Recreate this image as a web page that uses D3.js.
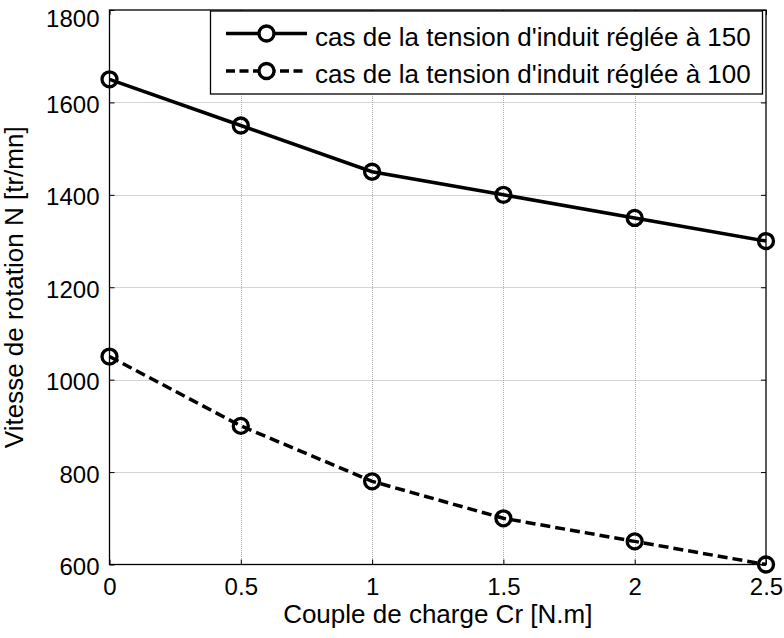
<!DOCTYPE html>
<html>
<head>
<meta charset="utf-8">
<script src="https://cdn.jsdelivr.net/npm/d3@7"></script>
<style>
  html, body { margin: 0; padding: 0; background: #fff; }
  svg { display: block; }
  text { font-family: "Liberation Sans", Arial, sans-serif; fill: #000; }
</style>
</head>
<body>
<script>
// Charge torque (N.m) and rotation speed (tr/mn) for two armature voltages
const couple = [0, 0.5, 1, 1.5, 2, 2.5];
const vitesse150 = [1650, 1550, 1450, 1400, 1350, 1300];
const vitesse100 = [1050, 900, 780, 700, 650, 600];
const xTicks = [0, 0.5, 1, 1.5, 2, 2.5];
const yTicks = [600, 800, 1000, 1200, 1400, 1600, 1800];
const legendLabels = [
  "cas de la tension d'induit réglée à 150",
  "cas de la tension d'induit réglée à 100"
];

const W = 784, H = 638;
const plot = { left: 109.5, right: 766, top: 10, bottom: 564.5 };

const svg = d3.select("body").append("svg")
  .attr("width", W).attr("height", H);

const x = d3.scaleLinear().domain([0, 2.5]).range([plot.left, plot.right]);
const y = d3.scaleLinear().domain([600, 1800]).range([plot.bottom, plot.top]);

const pw = plot.right - plot.left, ph = plot.bottom - plot.top;

// dotted grid
const grid = svg.append("g").attr("stroke", "#a8a8a8").attr("stroke-width", 1)
  .attr("stroke-dasharray", "1,1");
grid.selectAll("line.gx").data(xTicks.slice(1, -1)).join("line")
  .attr("x1", d => Math.round(x(d)) + 0.5).attr("x2", d => Math.round(x(d)) + 0.5)
  .attr("y1", plot.top).attr("y2", plot.bottom);
grid.selectAll("line.gy").data(yTicks.slice(1, -1)).join("line")
  .attr("y1", d => Math.round(y(d)) + 0.5).attr("y2", d => Math.round(y(d)) + 0.5)
  .attr("x1", plot.left).attr("x2", plot.right);

// axes with inward ticks
const tickFmt = d => String(d);
const axB = svg.append("g").attr("transform", `translate(0,${plot.bottom})`)
  .call(d3.axisBottom(x).tickValues(xTicks).tickFormat(tickFmt).tickSize(-5).tickPadding(13));
const axT = svg.append("g").attr("transform", `translate(0,${plot.top})`)
  .call(d3.axisTop(x).tickValues(xTicks).tickFormat("").tickSize(-5));
const axL = svg.append("g").attr("transform", `translate(${plot.left},0)`)
  .call(d3.axisLeft(y).tickValues(yTicks).tickFormat(tickFmt).tickSize(-5).tickPadding(10));
const axR = svg.append("g").attr("transform", `translate(${plot.right},0)`)
  .call(d3.axisRight(y).tickValues(yTicks).tickFormat("").tickSize(-5));

[axB, axT, axL, axR].forEach(a => {
  a.select(".domain").remove();
  a.selectAll(".tick line").attr("stroke", "#000").attr("stroke-width", 1);
  a.selectAll("text").attr("font-size", 24)
    .style("font-family", '"Liberation Sans", Arial, sans-serif').attr("fill", "#000");
});
// y labels sit slightly below their ticks; the top one is kept inside the page
axL.selectAll(".tick text").attr("dy", d => d === 1800 ? "0.67em" : "0.42em");

// box
svg.append("rect")
  .attr("x", plot.left).attr("y", plot.top).attr("width", pw).attr("height", ph)
  .attr("fill", "none").attr("stroke", "#000").attr("stroke-width", 1.3);

// series
const line = d3.line().x(d => x(d[0])).y(d => y(d[1]));
const series = [
  { values: vitesse150, dash: null, label: legendLabels[0] },
  { values: vitesse100, dash: "10,5", label: legendLabels[1] }
];

series.forEach(s => {
  const pts = couple.map((c, i) => [c, s.values[i]]);
  svg.append("path").datum(pts).attr("d", line)
    .attr("fill", "none").attr("stroke", "#000").attr("stroke-width", 3.5)
    .attr("stroke-dasharray", s.dash);
  svg.append("g").selectAll("circle").data(pts).join("circle")
    .attr("cx", d => x(d[0])).attr("cy", d => y(d[1])).attr("r", 7.5)
    .attr("fill", "none").attr("stroke", "#000").attr("stroke-width", 3.3);
});

// legend
const lg = svg.append("g");
lg.append("rect").attr("x", 210.5).attr("y", 11).attr("width", 552).attr("height", 83)
  .attr("fill", "#fff").attr("stroke", "#000").attr("stroke-width", 1.3);
const rowsY = [33.5, 71];
series.forEach((s, i) => {
  lg.append("line").attr("x1", 226).attr("x2", 307).attr("y1", rowsY[i]).attr("y2", rowsY[i])
    .attr("stroke", "#000").attr("stroke-width", 3.5).attr("stroke-dasharray", s.dash ? "9,4.5" : null);
  lg.append("circle").attr("cx", 266.5).attr("cy", rowsY[i]).attr("r", 7.5)
    .attr("fill", "#fff").attr("stroke", "#000").attr("stroke-width", 3.3);
  lg.append("text").attr("x", 315).attr("y", rowsY[i] + 12)
    .attr("font-size", 26).text(s.label);
});

// axis titles
svg.append("text").attr("x", (plot.left + plot.right) / 2).attr("y", 623)
  .attr("text-anchor", "middle").attr("font-size", 26).text("Couple de charge Cr [N.m]");
svg.append("text").attr("transform", `translate(22.5,${(plot.top + plot.bottom) / 2}) rotate(-90)`)
  .attr("text-anchor", "middle").attr("font-size", 26).text("Vitesse de rotation N [tr/mn]");
</script>
</body>
</html>
